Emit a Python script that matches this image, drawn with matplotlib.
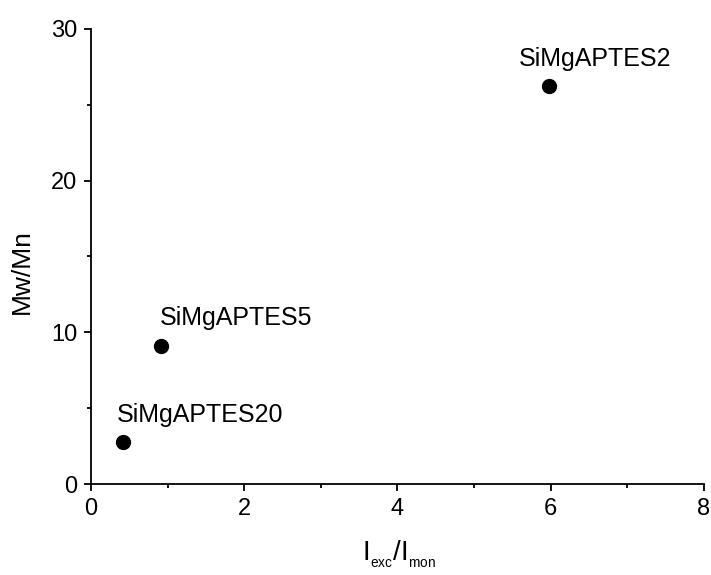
import matplotlib.pyplot as plt
from matplotlib.ticker import MultipleLocator

plt.rcParams['font.family'] = ['Liberation Sans', 'DejaVu Sans']

samples = ['SiMgAPTES20', 'SiMgAPTES5', 'SiMgAPTES2']
ratio_exc_mon = [0.42, 0.91, 5.98]
mw_mn = [2.8, 9.1, 26.2]
# label offset from each point, in pixels
label_dx = [-6, -1, -30]
label_dy = [20, 21, 20]

fig = plt.figure(figsize=(7.11, 5.75), dpi=100)
ax = fig.add_axes([0.128, 0.158, 0.862, 0.792])

ax.scatter(ratio_exc_mon, mw_mn, s=100, color='black', zorder=3)

for name, x, y, dx, dy in zip(samples, ratio_exc_mon, mw_mn, label_dx, label_dy):
    ax.annotate(name, (x, y), xytext=(dx, dy), textcoords='offset pixels',
                ha='left', va='baseline', fontsize=18)

ax.set_xlim(0, 8)
ax.set_ylim(0, 30)
ax.xaxis.set_major_locator(MultipleLocator(2))
ax.xaxis.set_minor_locator(MultipleLocator(1))
ax.yaxis.set_major_locator(MultipleLocator(10))
ax.yaxis.set_minor_locator(MultipleLocator(5))

for side in ['top', 'right']:
    ax.spines[side].set_visible(False)
for side in ['left', 'bottom']:
    ax.spines[side].set_linewidth(1.3)

ax.tick_params(which='major', direction='out', length=5, width=1.3, labelsize=17, pad=5)
ax.tick_params(which='minor', direction='out', length=3, width=1.3)

# small subscripts, like the original
ax.set_xlabel(r'$\mathregular{I_{{}_{exc}}/I_{{}_{mon}}}$', fontsize=20)
ax.xaxis.set_label_coords(0.503, -0.12)
ax.set_ylabel('Mw/Mn', fontsize=19)
ax.yaxis.set_label_coords(-0.094, 0.466)

fig.savefig('out.png', dpi=100)
